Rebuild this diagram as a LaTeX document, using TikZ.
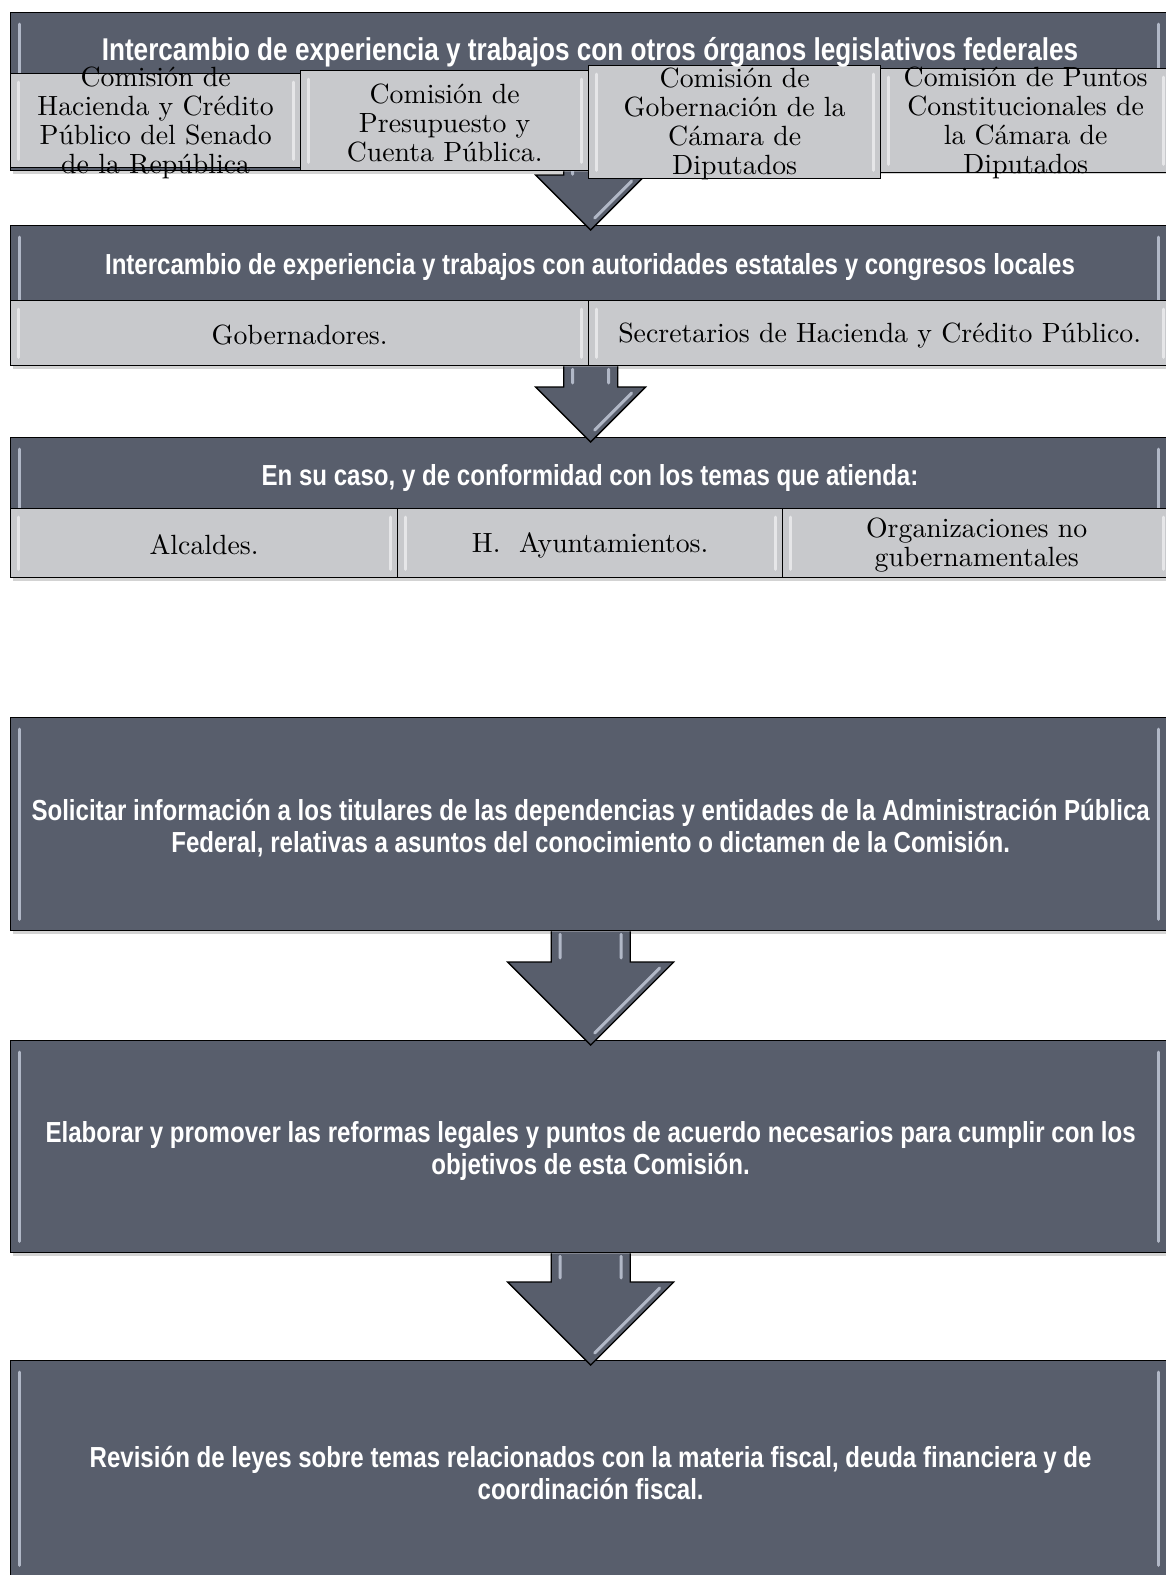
\documentclass[tikz,border=0pt]{standalone}
\usepackage{fontspec}
\newfontfamily\titfont[FakeStretch=0.83]{Liberation Sans}
\newfontfamily\lmdiez{lmroman10-regular}[Extension=.otf]
\usetikzlibrary{calc,shadows}

\definecolor{pizarra}{RGB}{88,94,108}
\definecolor{grisclaro}{RGB}{200,201,204}
\definecolor{brillo}{RGB}{200,207,222}

\tikzset{
  caja/.style={draw=black, line width=1.3pt, fill=pizarra, anchor=north west,
    inner sep=0pt, drop shadow={shadow xshift=2pt, shadow yshift=-3pt, opacity=0.35}},
  subcaja/.style={draw=black, line width=1.3pt, fill=grisclaro, anchor=north west, inner sep=0pt},
  titulo/.style={text=white, font=\titfont\bfseries\fontsize{29}{32}\selectfont, align=center, yshift=-4pt},
  serif/.style={font=\lmdiez\fontsize{27.8}{29}\selectfont, align=center, inner sep=0pt, yshift=-2pt},
  flecha/.style={fill=pizarra, draw=black, line width=1.3pt, line join=miter},
  luz/.style={draw=brillo, line width=3pt, line cap=round, opacity=0.8},
  luzclara/.style={draw=white, line width=3pt, line cap=round, opacity=0.55}
}

% block arrow: start, tip, half shaft width, half head width
\newcommand{\flecha}[4]{%
  \filldraw[flecha] let \p1=(#1), \p2=($(#2)+(0,5)$) in
    (\x1-#3pt,\y1) -- (\x1-#3pt,\y2+#4pt) -- (\x1-#4pt,\y2+#4pt) -- (\x1,\y2)
    -- (\x1+#4pt,\y2+#4pt) -- (\x1+#3pt,\y2+#4pt) -- (\x1+#3pt,\y1);
  \draw[luz] let \p1=(#1), \p2=($(#2)+(0,5)$) in
    (\x1-#3pt+9pt,\y1-3pt) -- (\x1-#3pt+9pt,\y2+#4pt+4pt)
    (\x1+#3pt-9pt,\y1-3pt) -- (\x1+#3pt-9pt,\y2+#4pt+4pt)
    (\x1+#4pt-14pt,\y2+#4pt-6pt) -- (\x1+4pt,\y2+12pt);
}

\begin{document}
\begin{tikzpicture}[x=1pt, y=-1pt]
  \useasboundingbox (0,0) rectangle (1166,1575);
  \clip (0,0) rectangle (1166,1575);

  % dark boxes
  \node[caja, minimum width=1160pt, minimum height=158pt] (h1) at (10,12) {};
  \node[caja, minimum width=1160pt, minimum height=140pt] (h2) at (10,225) {};
  \node[caja, minimum width=1160pt, minimum height=140pt] (h3) at (10,437) {};
  \node[caja, minimum width=1160pt, minimum height=213pt] (b1) at (10,717) {};
  \node[caja, minimum width=1160pt, minimum height=212pt] (b2) at (10,1040) {};
  \node[caja, minimum width=1160pt, minimum height=216pt] (b3) at (10,1360) {};
  \foreach \c in {h1,h2,h3,b1,b2,b3} {
    \draw[luz] ($(\c.north west)+(9,12)$) -- ($(\c.south west)+(9,-12)$);
    \draw[luz] ($(\c.north east)+(-13,12)$) -- ($(\c.south east)+(-13,-12)$);
  }

  % arrows
  \flecha{h1.south}{h2.north}{27}{55}
  \flecha{h2.south}{h3.north}{27}{55}
  \flecha{b1.south}{b2.north}{39.5}{83}
  \flecha{b2.south}{b3.north}{39.5}{83}

  % light boxes
  \node[subcaja, minimum width=290pt, minimum height=94pt] (s11) at (10,73) {};
  \node[subcaja, minimum width=288pt, minimum height=100pt] (s12) at (300,70) {};
  \node[subcaja, minimum width=290pt, minimum height=104pt] (s14) at (880,68) {};
  \node[subcaja, minimum width=292pt, minimum height=113pt] (s13) at (588,65) {};
  \node[subcaja, minimum width=578pt, minimum height=65pt] (s21) at (10,300) {};
  \node[subcaja, minimum width=582pt, minimum height=65pt] (s22) at (588,300) {};
  \node[subcaja, minimum width=387pt, minimum height=69pt] (s31) at (10,508) {};
  \node[subcaja, minimum width=385pt, minimum height=69pt] (s32) at (397,508) {};
  \node[subcaja, minimum width=388pt, minimum height=69pt] (s33) at (782,508) {};
  \foreach \c in {s11,s12,s13,s14,s21,s22,s31,s32,s33} {
    \draw[luzclara] ($(\c.north west)+(8,9)$) -- ($(\c.south west)+(8,-9)$);
    \draw[luzclara] ($(\c.north east)+(-8,9)$) -- ($(\c.south east)+(-8,-9)$);
  }

  % titles
  \node[titulo, font=\titfont\bfseries\fontsize{31.5}{34}\selectfont] (t1) at (590,48)
    {Intercambio de experiencia y trabajos con otros órganos legislativos federales};
  \node[titulo] (t2) at (590,263)
    {Intercambio de experiencia y trabajos con autoridades estatales y congresos locales};
  \node[titulo] (t3) at (590,474)
    {En su caso, y de conformidad con los temas que atienda:};

  % texts of the light boxes
  \node[serif] (u11) at (s11) {Comisión de\\Hacienda y Crédito\\Público del Senado\\de la República};
  \node[serif] (u12) at (s12) {Comisión de\\Presupuesto y\\Cuenta Pública.};
  \node[serif] (u13) at (s13) {Comisión de\\Gobernación de la\\Cámara de\\Diputados};
  \node[serif] (u14) at (s14) {Comisión de Puntos\\Constitucionales de\\la Cámara de\\Diputados};
  \node[serif] (u21) at (s21) {Gobernadores.};
  \node[serif] (u22) at (s22) {Secretarios de Hacienda y Crédito Público.};
  \node[serif] (u31) at (s31) {Alcaldes.};
  \node[serif] (u32) at (s32) {H.\ \ Ayuntamientos.};
  \node[serif] (u33) at (s33) {Organizaciones no\\gubernamentales};

  % texts of the big boxes
  \node[titulo] (v1) at (b1) {Solicitar información a los titulares de las dependencias y entidades de la Administración Pública\\Federal, relativas a asuntos del conocimiento o dictamen de la Comisión.};
  \node[titulo] (v2) at (b2) {Elaborar y promover las reformas legales y puntos de acuerdo necesarios para cumplir con los\\objetivos de esta Comisión.};
  \node[titulo] (v3) at (b3) {Revisión de leyes sobre temas relacionados con la materia fiscal, deuda financiera y de\\coordinación fiscal.};
\end{tikzpicture}
\end{document}
